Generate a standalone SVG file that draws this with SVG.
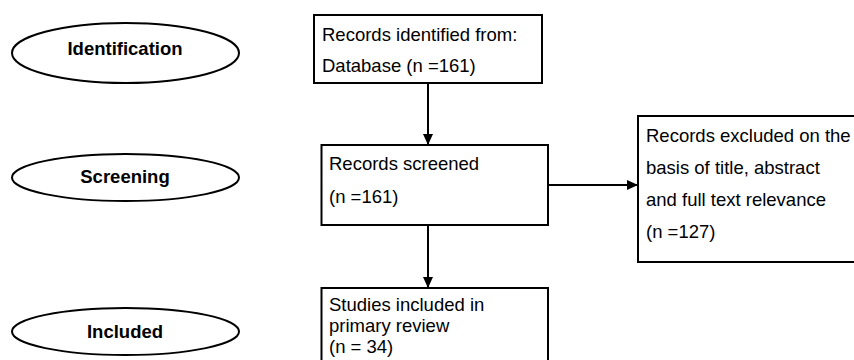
<svg xmlns="http://www.w3.org/2000/svg" width="854" height="360" viewBox="0 0 854 360">
<defs>
<marker id="arr" markerWidth="11" markerHeight="10" refX="11" refY="5" orient="auto" markerUnits="userSpaceOnUse">
<path d="M0,0 L11,5 L0,10 Z" fill="#000"/>
</marker>
<style>
.stage{fill:#fff;stroke:#000;stroke-width:2}
.box{fill:#fff;stroke:#000;stroke-width:2}
.lbl{font-family:"Liberation Sans",Arial,sans-serif;font-size:18.5px;font-weight:bold;fill:#000;text-anchor:middle}
.txt{font-family:"Liberation Sans",Arial,sans-serif;font-size:18.5px;fill:#000}
.con{stroke:#000;stroke-width:2;fill:none}
</style>
</defs>
<rect width="854" height="360" fill="#fff"/>
<g id="identification">
<ellipse class="stage" cx="125.5" cy="53" rx="113.5" ry="30"/>
<text class="lbl" x="125" y="55">Identification</text>
</g>
<g id="screening">
<ellipse class="stage" cx="125.5" cy="177.5" rx="113.5" ry="23.5"/>
<text class="lbl" x="125" y="183">Screening</text>
</g>
<g id="included">
<ellipse class="stage" cx="125.5" cy="331.5" rx="113.5" ry="23.5"/>
<text class="lbl" x="125" y="338">Included</text>
</g>
<g id="records-identified">
<rect class="box" x="314" y="15" width="228" height="68"/>
<text class="txt" x="322" y="41">Records identified from:</text>
<text class="txt" x="322" y="72">Database (n =161)</text>
</g>
<g id="records-screened">
<rect class="box" x="321.5" y="145" width="226.5" height="80"/>
<text class="txt" x="329" y="170">Records screened</text>
<text class="txt" x="329" y="203">(n =161)</text>
</g>
<g id="records-excluded">
<rect class="box" x="638" y="116" width="222" height="146"/>
<text class="txt" x="646" y="142">Records excluded on the</text>
<text class="txt" x="646" y="174">basis of title, abstract</text>
<text class="txt" x="646" y="206">and full text relevance</text>
<text class="txt" x="646" y="238">(n =127)</text>
</g>
<g id="studies-included">
<rect class="box" x="321.5" y="288" width="226.5" height="80"/>
<text class="txt" x="329" y="311">Studies included in</text>
<text class="txt" x="329" y="332">primary review</text>
<text class="txt" x="329" y="353">(n = 34)</text>
</g>
<g id="connectors">
<line class="con" x1="428" y1="83" x2="428" y2="145" marker-end="url(#arr)"/>
<line class="con" x1="548" y1="185" x2="638" y2="185" marker-end="url(#arr)"/>
<line class="con" x1="428" y1="225" x2="428" y2="288" marker-end="url(#arr)"/>
</g>
</svg>
